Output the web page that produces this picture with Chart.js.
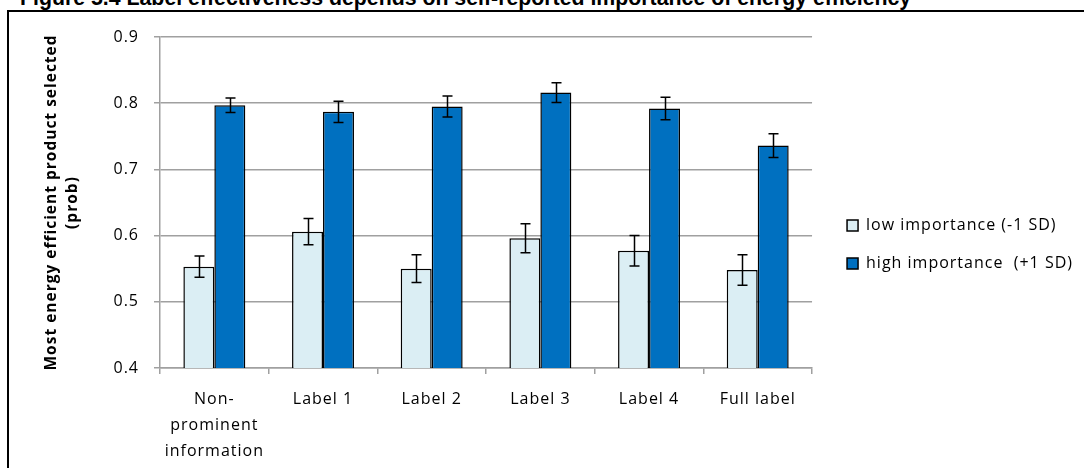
<!DOCTYPE html>
<html>
<head>
<meta charset="utf-8">
<script src="https://cdn.jsdelivr.net/npm/chart.js@4.4.1/dist/chart.umd.min.js"></script>
<style>
  html, body { margin: 0; padding: 0; background: #fff; overflow: hidden; }
  body { width: 1084px; height: 468px; position: relative; }
  #title {
    position: absolute; left: 20px; top: -12px; white-space: nowrap;
    font: bold 21.3px/21.3px "Liberation Sans", Arial, sans-serif; color: #000;
  }
  #frame {
    position: absolute; left: 7px; top: 10px; width: 1100px; height: 480px;
    border-left: 2px solid #000; border-top: 2px solid #000;
  }
  #wrap { position: absolute; left: 9px; top: 12px; width: 1075px; height: 456px; }
</style>
</head>
<body>
<div id="title">Figure 5.4 Label effectiveness depends on self-reported importance of energy efficiency</div>
<div id="frame"></div>
<div id="wrap"><canvas id="c"></canvas></div>
<script>
const categories = [['Non-', 'prominent', 'information'], 'Label 1', 'Label 2', 'Label 3', 'Label 4', 'Full label'];
const lowValues = [0.553, 0.606, 0.550, 0.596, 0.577, 0.548];
const lowErrors = [0.016, 0.020, 0.021, 0.022, 0.023, 0.023];
const highValues = [0.797, 0.787, 0.795, 0.816, 0.792, 0.736];
const highErrors = [0.011, 0.016, 0.016, 0.015, 0.017, 0.018];
const yTicks = [0.4, 0.5, 0.6, 0.7, 0.8, 0.9];

const FONT = '"Open Sans", "Liberation Sans", sans-serif';

// the original text is loosely tracked
const tracking = {
  id: 'tracking',
  beforeLayout(chart) { chart.ctx.letterSpacing = '1px'; },
  beforeDraw(chart) { chart.ctx.letterSpacing = '1px'; }
};

// whiskers drawn on top of the bars
const errorBars = {
  id: 'errorBars',
  afterDatasetsDraw(chart) {
    const ctx = chart.ctx;
    const y = chart.scales.y;
    ctx.save();
    ctx.strokeStyle = '#000';
    ctx.lineWidth = 1.5;
    chart.data.datasets.forEach((ds, i) => {
      const meta = chart.getDatasetMeta(i);
      meta.data.forEach((bar, j) => {
        const v = ds.data[j], e = ds.errors[j];
        const x = Math.round(bar.x) + 0.5;
        const yTop = y.getPixelForValue(v + e);
        const yBot = y.getPixelForValue(v - e);
        ctx.beginPath();
        ctx.moveTo(x, yTop); ctx.lineTo(x, yBot);
        ctx.moveTo(x - 5, yTop); ctx.lineTo(x + 5, yTop);
        ctx.moveTo(x - 5, yBot); ctx.lineTo(x + 5, yBot);
        ctx.stroke();
      });
    });
    ctx.restore();
  }
};

// nudge the legend block to where the original sits
const legendShift = {
  id: 'legendShift',
  afterLayout(chart) {
    const lg = chart.legend;
    lg.left += 13; lg.right += 13;
    lg.top -= 8; lg.bottom -= 8;
  }
};

new Chart(document.getElementById('c'), {
  type: 'bar',
  data: {
    labels: categories,
    datasets: [{
      label: 'low importance (-1 SD)',
      data: lowValues,
      errors: lowErrors,
      backgroundColor: '#DBEEF4',
      borderColor: '#000',
      borderWidth: 1.5,
      categoryPercentage: 0.57,
      barPercentage: 1.0,
    }, {
      label: 'high importance  (+1 SD)',
      data: highValues,
      errors: highErrors,
      backgroundColor: '#0070C0',
      borderColor: '#000',
      borderWidth: 1.5,
      categoryPercentage: 0.57,
      barPercentage: 1.0,
    }]
  },
  options: {
    responsive: true,
    maintainAspectRatio: false,
    animation: false,
    layout: { padding: { top: 25, left: 0, right: 14, bottom: 0 } },
    scales: {
      y: {
        min: 0.4, max: 0.9,
        afterBuildTicks: (scale) => { scale.ticks = yTicks.map(v => ({ value: v })); },
        afterFit: (scale) => { scale.width = 151; },
        grid: { color: '#a0a0a0', lineWidth: 1.5, tickLength: 6 },
        border: { color: '#a0a0a0', width: 1.5 },
        ticks: {
          color: '#000', padding: 15,
          font: { family: FONT, size: 16 },
          callback: (v) => Number(v).toFixed(1),
        },
        title: {
          display: true,
          text: ['Most energy efficient product selected', '(prob)'],
          color: '#000',
          font: { family: FONT, size: 15.5, weight: 'bold', lineHeight: 1.36 },
          padding: { top: 32, bottom: 0 },
        }
      },
      x: {
        afterFit: (scale) => { scale.height = 100; },
        grid: { drawOnChartArea: false, offset: true, color: '#a0a0a0', lineWidth: 1.5, tickLength: 6 },
        border: { color: '#a0a0a0', width: 1.5 },
        ticks: {
          color: '#000', padding: 13, maxRotation: 0, autoSkip: false,
          font: { family: FONT, size: 16, lineHeight: 1.6 },
        }
      }
    },
    plugins: {
      legend: {
        position: 'right',
        labels: {
          color: '#000', boxWidth: 11, boxHeight: 11, padding: 22,
          font: { family: FONT, size: 16 },
        }
      },
      tooltip: { enabled: false },
    }
  },
  plugins: [tracking, errorBars, legendShift]
});
</script>
</body>
</html>
